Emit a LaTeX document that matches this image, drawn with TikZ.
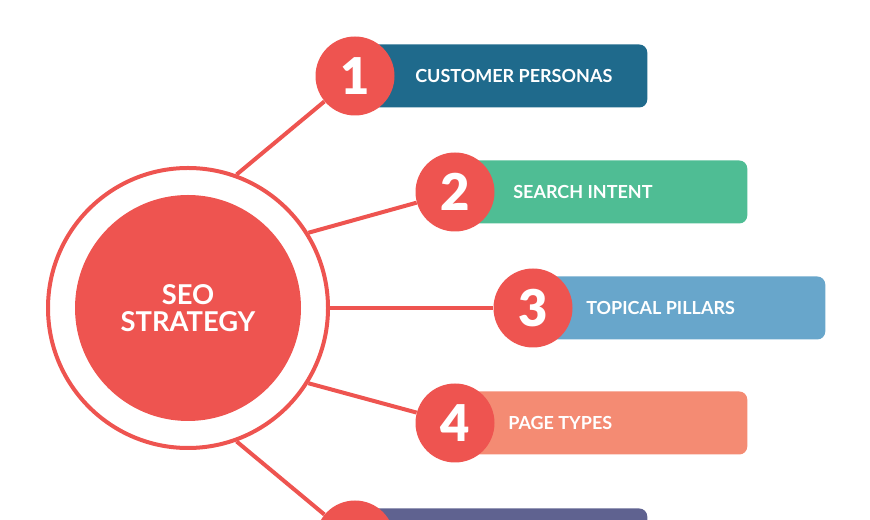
\documentclass[tikz,border=0pt]{standalone}
\usepackage{fontspec}
\setmainfont{Lato}
\newfontfamily\digitfont{Lato Black}
\definecolor{seored}{HTML}{EE5450}
\definecolor{boxa}{HTML}{1F6A8C}
\definecolor{boxb}{HTML}{4FBD94}
\definecolor{boxc}{HTML}{68A6CB}
\definecolor{boxd}{HTML}{F48B73}
\definecolor{boxe}{HTML}{5F6290}

\tikzset{
  ring/.style={circle, draw=seored, line width=3pt, minimum size=210pt, inner sep=0pt},
  core/.style={circle, fill=seored, minimum size=169.5pt, inner sep=0pt, text=white,
    align=center, font=\bfseries\fontsize{20.5}{20.5}\selectfont},
  numdot/.style={circle, fill=seored, minimum size=59.25pt, inner sep=0pt, text=white,
    font=\digitfont\fontsize{38}{38}\selectfont},
  topicbox/.style={rounded corners=6pt, minimum width=219pt, minimum height=47.25pt,
    anchor=west, inner sep=0pt},
  topictext/.style={anchor=west, text=white, inner sep=0pt,
    font=\bfseries\fontsize{13.5}{14}\selectfont},
  spoke/.style={seored, line width=3pt},
}

\begin{document}
\begin{tikzpicture}[x=0.75pt, y=0.75pt]
\useasboundingbox (0,0) rectangle (870,520);
\clip (0,0) rectangle (870,520);

\node[ring] (ring) at (188,212) {};
\node[core] (seo) at (188,212) {SEO\\STRATEGY};

  \foreach \i/\x/\y/\a/\dx/\col/\txt in {%
      1/355/444/70/60/boxa/CUSTOMER PERSONAS,
      2/455/328/32/58/boxb/SEARCH INTENT,
      3/533/212/0/53/boxc/TOPICAL PILLARS,
      4/455/97/-32/53/boxd/PAGE TYPES,
      5/355/-20/-70/58/boxe/} {%
    % box, badge, label, spoke
    \node[topicbox, fill=\col] (box\i) at (\x,\y) {};
    \ifnum\i<5
      \node[numdot] (n\i) at (\x,\y) {\i};
    \else
      \node[numdot] (n\i) at (\x,\y) {};
    \fi
    \node[topictext] (t\i) at (\x+\dx,\y) {\txt};
    \draw[spoke] (ring.\a) -- (n\i);
  }
\end{tikzpicture}
\end{document}
